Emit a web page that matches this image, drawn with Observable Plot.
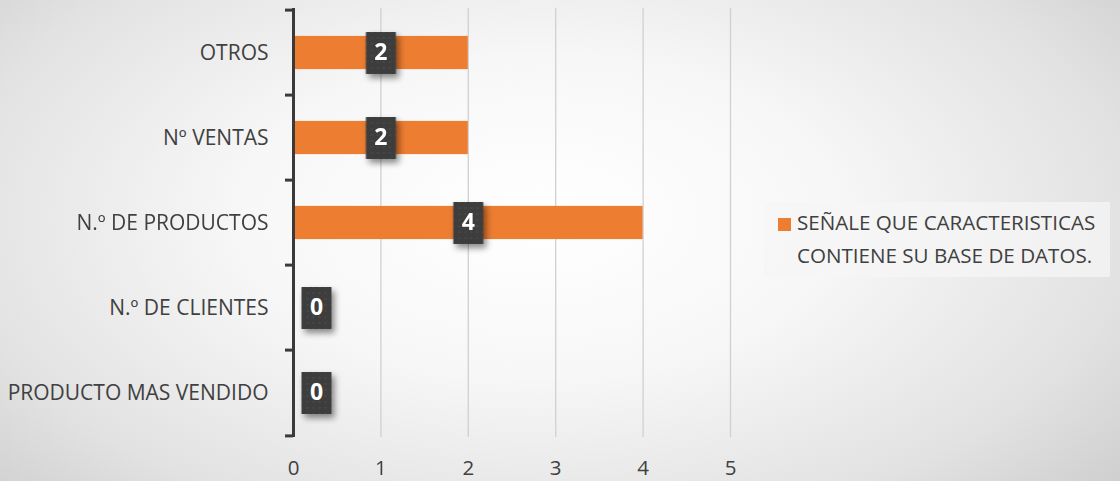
<!DOCTYPE html>
<html>
<head>
<meta charset="utf-8">
<script src="https://cdn.jsdelivr.net/npm/d3@7"></script>
<script src="https://cdn.jsdelivr.net/npm/@observablehq/plot@0.6"></script>
<style>
  html, body { margin: 0; padding: 0; }
  body {
    width: 1120px; height: 481px; overflow: hidden; position: relative;
    background: radial-gradient(ellipse 75% 95% at 48% 45%, #ffffff 0%, #f7f7f7 35%, #e2e2e2 70%, #c6c6c6 100%);
    font-family: "Open Sans", sans-serif;
  }
  #chart { position: absolute; left: 0; top: 0; }
  #legend {
    position: absolute; left: 764px; top: 202px; width: 346px; height: 75px;
    background: rgba(245,245,245,0.75);
    color: #404040; font-size: 20.6px; line-height: 33px;
    box-sizing: border-box; padding: 4px 0 0 33px; white-space: nowrap;
  }
  #legend .sw {
    position: absolute; left: 14px; top: 16px; width: 13px; height: 13px; background: #ED7D31;
  }
</style>
</head>
<body>
<div id="chart"></div>
<div id="legend"><span class="sw"></span>SEÑALE QUE CARACTERISTICAS<br>CONTIENE SU BASE DE DATOS.</div>
<script>
const categories = ["OTROS", "Nº VENTAS", "N.º DE PRODUCTOS", "N.º DE CLIENTES", "PRODUCTO MAS VENDIDO"];
const values = [2, 2, 4, 0, 0];
const xTicks = [0, 1, 2, 3, 4, 5];
const seriesName = "SEÑALE QUE CARACTERISTICAS CONTIENE SU BASE DE DATOS.";

const data = categories.map((c, i) => ({cat: c, v: values[i]}));

const W = 1120, H = 481, mL = 293, mR = 390, mT = 8, mB = 44;
const bw = (H - mT - mB) / categories.length;
const unitsPerPx = (xTicks[xTicks.length - 1] - xTicks[0]) / (W - mL - mR);
const tickLen = 8 * unitsPerPx;

const boxSymbol = { draw(ctx) { ctx.moveTo(-15, -21); ctx.lineTo(15, -21); ctx.lineTo(15, 21); ctx.lineTo(-15, 21); ctx.closePath(); } };

const plot = Plot.plot({
  width: W, height: H,
  marginLeft: mL, marginRight: mR, marginTop: mT, marginBottom: mB,
  style: { background: "transparent", overflow: "visible", fontFamily: "Open Sans, sans-serif" },
  x: { domain: [0, 5] },
  y: { domain: categories, padding: 0 },
  marks: [
    Plot.gridX({ ticks: xTicks.filter(t => t > 0), stroke: "#d0d0d0", strokeOpacity: 1, strokeWidth: 1.3 }),
    Plot.barX(data, { y: "cat", x: "v", fill: "#ED7D31", insetTop: (bw - 34) / 2, insetBottom: (bw - 34) / 2 }),
    Plot.ruleX([0], { stroke: "#3a3a3a", strokeWidth: 3 }),
    Plot.ruleY(categories, { y: d => d, x1: -tickLen, x2: 0, dy: -bw / 2, stroke: "#3a3a3a", strokeWidth: 3 }),
    Plot.ruleY(categories.slice(-1), { y: d => d, x1: -tickLen, x2: 0, dy: bw / 2, stroke: "#3a3a3a", strokeWidth: 3 }),
    Plot.dot(data.filter(d => d.v > 0), { y: "cat", x: d => d.v / 2, symbol: boxSymbol, fill: "#404040", stroke: "none" }),
    Plot.dot(data.filter(d => d.v === 0), { y: "cat", x: "v", dx: 23, symbol: boxSymbol, fill: "#404040", stroke: "none" }),
    Plot.text(data.filter(d => d.v > 0), { y: "cat", x: d => d.v / 2, text: d => String(d.v), fill: "white", fontWeight: "bold", fontSize: 23 }),
    Plot.text(data.filter(d => d.v === 0), { y: "cat", x: "v", dx: 23, text: d => String(d.v), fill: "white", fontWeight: "bold", fontSize: 23 }),
    Plot.axisY({ tickSize: 0, tickPadding: 25, fontSize: 21, color: "#404040", label: null }),
    Plot.axisX({ ticks: xTicks, tickSize: 0, tickPadding: 23, fontSize: 20.5, color: "#404040", label: null, tickFormat: d => String(d) })
  ]
});
// dotted texture for the data-label boxes
const ns = "http://www.w3.org/2000/svg";
const defs = document.createElementNS(ns, "defs");
defs.innerHTML = '<pattern id="boxpat" patternUnits="userSpaceOnUse" width="6" height="6"><rect width="6" height="6" fill="#3d3d3d"/><circle cx="3" cy="3" r="0.9" fill="#4c4c4c"/></pattern>';
plot.insertBefore(defs, plot.firstChild);
plot.querySelectorAll('g[aria-label="dot"]').forEach(g => {
  g.style.filter = "drop-shadow(3px 4px 3px rgba(0,0,0,0.45))";
  g.querySelectorAll("path").forEach(p => p.setAttribute("fill", "url(#boxpat)"));
  g.setAttribute("fill", "url(#boxpat)");
});
plot.querySelectorAll('g[aria-label="y-axis tick label"] text, g[aria-label="x-axis tick label"] text').forEach(t => t.setAttribute("fill", "#404040"));
document.getElementById("chart").appendChild(plot);
</script>
</body>
</html>
